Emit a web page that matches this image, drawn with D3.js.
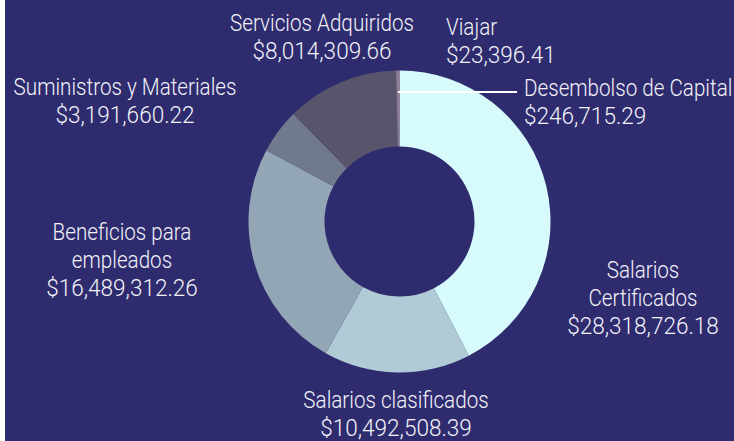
<!DOCTYPE html>
<html>
<head>
<meta charset="utf-8">
<script src="https://cdn.jsdelivr.net/npm/d3@7"></script>
<style>
  html, body { margin: 0; padding: 0; background: #ffffff; }
  svg { display: block; }
</style>
</head>
<body>
<svg width="734" height="441"></svg>
<script>
/****** DATA ******/
var categories = ["Salarios Certificados", "Salarios clasificados", "Beneficios para empleados",
                  "Suministros y Materiales", "Servicios Adquiridos", "Viajar", "Desembolso de Capital"];
var amounts = [28318726.18, 10492508.39, 16489312.26, 3191660.22, 8014309.66, 23396.41, 246715.29];
// label lines as shown on the picture (name may wrap)
var labelLines = [
    ["Salarios", "Certificados"],
    ["Salarios clasificados"],
    ["Beneficios para", "empleados"],
    ["Suministros y Materiales"],
    ["Servicios Adquiridos"],
    ["Viajar"],
    ["Desembolso de Capital"]
];
var sliceColors = ["#d7fafd", "#b0cbd6", "#93a6b6", "#717a8c", "#57546b", "#7a6c80", "#8d7d8f"];

function init() {
    var svg = d3.select("svg"),
        width = +svg.attr("width"),
        height = +svg.attr("height");

    var center = {x: 399.5, y: 221.5},
        outerRadius = 151,
        innerRadius = 75,
        fontSize = 24,
        lineHeight = 28,
        nameSqueeze = 0.86,    // font is narrower than Roboto in the original
        amountSqueeze = 0.94;

    // label anchor: x, first baseline, anchor
    var labelPos = [
        {x: 643, y: 278, anchor: "middle"},
        {x: 396, y: 408, anchor: "middle"},
        {x: 122, y: 240, anchor: "middle"},
        {x: 125, y: 95, anchor: "middle"},
        {x: 322, y: 31, anchor: "middle"},
        {x: 446, y: 35, anchor: "start"},
        {x: 524, y: 96, anchor: "start"}
    ];

    var fmt = d3.format("$,.2f");

    // Background with the thin white strip on the left
    svg.append("rect")
        .attr("x", 5).attr("y", 0)
        .attr("width", width - 5).attr("height", height)
        .attr("fill", "#2e2b6f");

    var data = categories.map(function(c, i) {
        return {name: c, value: amounts[i], lines: labelLines[i], color: sliceColors[i], pos: labelPos[i]};
    });

    var pie = d3.pie()
        .sort(null)
        .value(function(d) { return d.value; });

    var arc = d3.arc()
        .innerRadius(innerRadius)
        .outerRadius(outerRadius);

    var g = svg.append("g")
        .attr("transform", "translate(" + center.x + "," + center.y + ")");

    var arcs = pie(data);

    g.selectAll("path.slice")
        .data(arcs)
        .enter()
        .append("path")
        .attr("class", "slice")
        .attr("d", arc)
        .attr("fill", function(d) { return d.data.color; });

    // Leader line for the Desembolso slice
    var desembolso = arcs[6];
    var mid = (desembolso.startAngle + desembolso.endAngle) / 2;
    var lineY = desembolso.data.pos.y - 4;
    var rLine = center.y - lineY;
    svg.append("line")
        .attr("x1", center.x + Math.sin(mid) * rLine)
        .attr("y1", lineY)
        .attr("x2", desembolso.data.pos.x - 7)
        .attr("y2", lineY)
        .attr("stroke", "#ffffff")
        .attr("stroke-width", 2);

    // Labels: name lines, then the amount
    function addLine(d, str, i, squeeze) {
        svg.append("text")
            .attr("transform", "translate(" + d.pos.x + "," + (d.pos.y + i * lineHeight) +
                ") scale(" + squeeze + ",1)")
            .attr("text-anchor", d.pos.anchor)
            .attr("font-family", "Roboto, 'Open Sans', sans-serif")
            .attr("font-weight", 300)
            .attr("font-size", fontSize)
            .attr("fill", "#f2f2f7")
            .text(str);
    }

    data.forEach(function(d) {
        d.lines.forEach(function(l, i) { addLine(d, l, i, nameSqueeze); });
        addLine(d, fmt(d.value), d.lines.length, amountSqueeze);
    });
}
init();
</script>
</body>
</html>
